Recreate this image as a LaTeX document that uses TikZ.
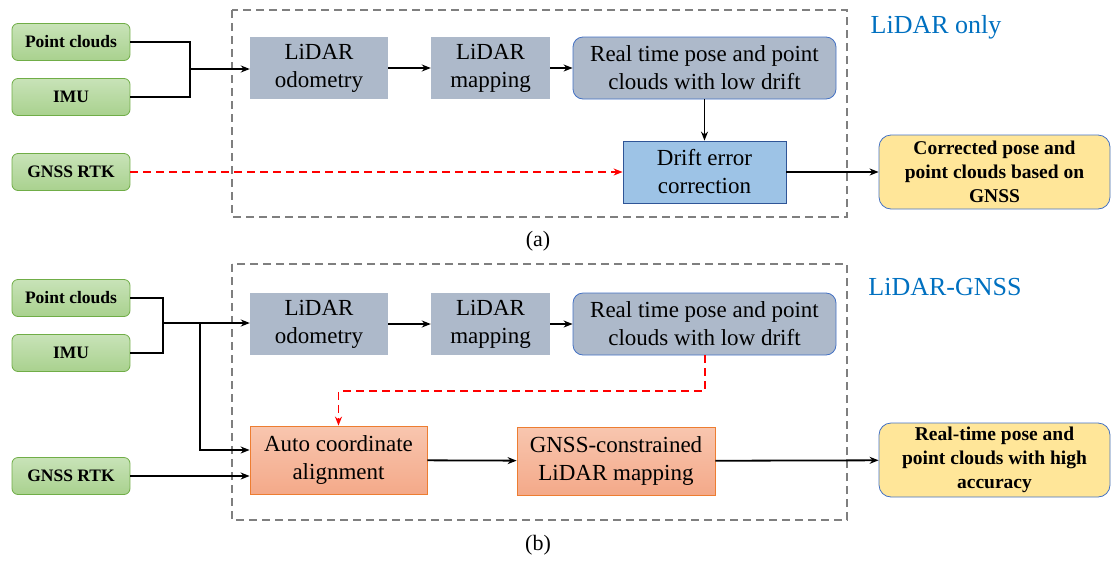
\documentclass[tikz,border=0pt]{standalone}
\usepackage{fontspec}
\setmainfont{Liberation Serif}
\usetikzlibrary{arrows.meta,shapes.misc}
\definecolor{grnB}{HTML}{70AD47}
\definecolor{grnT}{HTML}{C8E3B8}
\definecolor{grnM}{HTML}{A9D18E}
\definecolor{grayF}{HTML}{ADB9CA}
\definecolor{blueB}{HTML}{4472C4}
\definecolor{dcF}{HTML}{9DC3E6}
\definecolor{dcB}{HTML}{2F5597}
\definecolor{orT}{HTML}{F8C6AF}
\definecolor{orM}{HTML}{F4A989}
\definecolor{orB}{HTML}{ED7D31}
\definecolor{yelF}{HTML}{FFE699}
\definecolor{lblC}{HTML}{0070C0}
\definecolor{dashG}{HTML}{7F7F7F}
\tikzset{
  inbox/.style={draw=grnB, line width=0.8pt, rounded corners=6pt, top color=grnT, bottom color=grnM,
    minimum width=118pt, minimum height=37pt, inner sep=0pt, font=\fontsize{17.5}{20}\selectfont\bfseries},
  graybox/.style={fill=grayF, minimum height=62pt, inner sep=0pt, align=center,
    font=\fontsize{23}{28}\selectfont},
  rtbox/.style={graybox, draw=blueB, line width=0.8pt, rounded corners=10pt},
  dcbox/.style={fill=dcF, draw=dcB, line width=0.8pt, minimum width=163pt, minimum height=62pt,
    inner sep=0pt, align=center, font=\fontsize{23}{28}\selectfont},
  orbox/.style={draw=orB, line width=0.8pt, top color=orT, bottom color=orM, minimum height=68pt,
    inner sep=0pt, align=center, font=\fontsize{23}{28}\selectfont},
  outbox/.style={draw=blueB, line width=0.8pt, fill=yelF, rounded corners=12pt, minimum width=231pt,
    minimum height=74pt, inner sep=0pt, align=center, font=\fontsize{19.5}{24}\selectfont\bfseries},
  frame/.style={draw=dashG, line width=1.5pt, dash pattern=on 8pt off 5pt},
  conn/.style={line width=1.8pt, -{Stealth[length=9pt,width=7pt]}},
  plain/.style={line width=1.8pt},
  redconn/.style={draw=red, line width=1.5pt, dash pattern=on 8pt off 5pt, -{Stealth[length=9pt,width=7pt]}},
  lbl/.style={font=\fontsize{26}{28}\selectfont, text=lblC},
  captext/.style={font=\fontsize{22}{24}\selectfont}
}
\begin{document}
\begin{tikzpicture}[x=1pt,y=-1pt]
\useasboundingbox (0,0) rectangle (1117,563);
% ---------- panel (a)
\draw[frame] (232,10) rectangle (847,217);
\node[lbl] (la) at (936,27) {LiDAR only};
\node[captext] (ca) at (538,241) {(a)};
\node[inbox] (pc) at (71,42) {Point clouds};
\node[inbox] (imu) at (71,97) {IMU};
\node[inbox] (gn) at (71,172) {GNSS RTK};
\node[graybox, minimum width=138pt] (od) at (319,68) {LiDAR\\odometry};
\node[graybox, minimum width=119pt] (mp) at (490.5,68) {LiDAR\\mapping};
\node[rtbox, minimum width=263pt] (rt) at (704.5,68) {Real time pose and point\\clouds with low drift};
\node[dcbox] (dc) at (704.5,172) {Drift error\\correction};
\node[outbox] (out) at (994.5,172) {Corrected pose and\\point clouds based on\\GNSS};
\coordinate (j1) at (190,69);
\draw[plain] (pc.east) -| (j1);
\draw[plain] (imu.east) -| (j1);
\draw[conn] (j1) -- (od.west |- j1);
\draw[conn] (od) -- (mp);
\draw[conn] (mp) -- (rt);
\draw[conn] (rt) -- (dc);
\draw[redconn] (gn) -- (dc);
\draw[conn] (dc) -- (out);
% ---------- panel (b)
\draw[frame] (232,264) rectangle (847,520);
\node[lbl] (lb) at (945,287) {LiDAR-GNSS};
\node[captext] (cb) at (538,545) {(b)};
\node[inbox] (pc2) at (71,298) {Point clouds};
\node[inbox] (imu2) at (71,353) {IMU};
\node[inbox] (gn2) at (71,476) {GNSS RTK};
\node[graybox, minimum width=138pt] (od2) at (319,324) {LiDAR\\odometry};
\node[graybox, minimum width=119pt] (mp2) at (490.5,324) {LiDAR\\mapping};
\node[rtbox, minimum width=263pt] (rt2) at (704.5,324) {Real time pose and point\\clouds with low drift};
\node[orbox, minimum width=177pt] (aca) at (338.5,460) {Auto coordinate\\alignment};
\node[orbox, minimum width=198pt] (gcm) at (616,461) {GNSS-constrained\\LiDAR mapping};
\node[outbox] (out2) at (994.5,460) {Real-time pose and\\point clouds with high\\accuracy};
\coordinate (j2) at (163,323);
\coordinate (b2) at (200,323);
\coordinate (a2) at (200,450);
\coordinate (r1) at (705,391);
\draw[plain] (pc2.east) -| (j2);
\draw[plain] (imu2.east) -| (j2);
\draw[conn] (j2) -- (od2.west |- j2);
\draw[conn] (b2) -- (a2) -- (aca.west |- a2);
\draw[conn] (gn2.east) -- (aca.west |- gn2.east);
\draw[conn] (od2) -- (mp2);
\draw[conn] (mp2) -- (rt2);
\draw[redconn] (rt2.south -| r1) -- (r1) -| (aca.north);
\draw[conn] (aca) -- (gcm);
\draw[conn] (gcm) -- (out2);
\end{tikzpicture}
\end{document}
